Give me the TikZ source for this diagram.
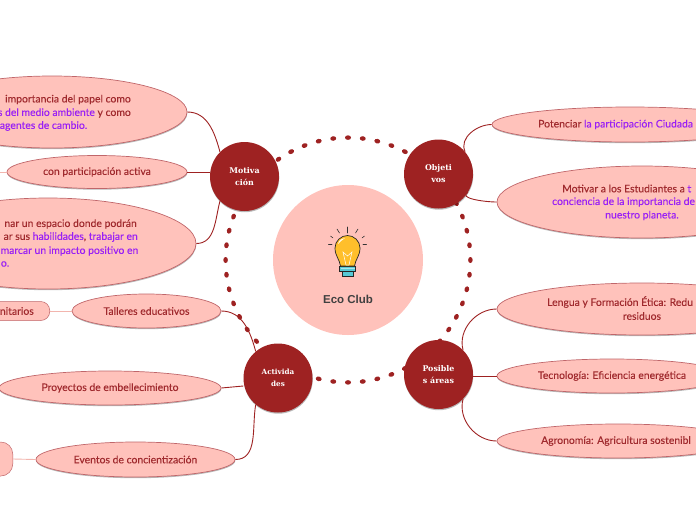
\documentclass[tikz,border=0pt]{standalone}
\usepackage{fontspec}
\setmainfont{Lato}[FakeBold=0.12]
\newfontfamily\serifhead{DejaVu Serif}
\newfontfamily\titlefont{Liberation Sans}
\usetikzlibrary{shapes.geometric,shadows}
\definecolor{petal}{HTML}{FFC2BB}
\definecolor{petaledge}{HTML}{C0666A}
\definecolor{wine}{HTML}{9E2222}
\definecolor{winetext}{HTML}{A02A2E}
\definecolor{violet}{HTML}{9A20F5}
\definecolor{tail}{HTML}{F2B5AE}
\definecolor{bulb}{HTML}{FFBF2B}
\definecolor{socket}{HTML}{57C9D6}
\tikzset{
  leaf/.style={ellipse, draw=petaledge, fill=petal, line width=0.7pt, inner sep=0pt,
    text=winetext, font=\fontsize{10.4}{12}\selectfont,
    drop shadow={shadow xshift=0.3pt, shadow yshift=-1.2pt, fill=black, opacity=0.28}},
  stub/.style={draw=petaledge, fill=petal, line width=0.5pt, rounded corners=9pt,
    text=winetext, font=\fontsize{10.4}{12}\selectfont, inner sep=0pt},
  hub/.style={circle, fill=wine, inner sep=0pt, minimum size=69pt, text=white, align=center,
    font=\serifhead\bfseries\fontsize{7.9}{12}\selectfont,
    drop shadow={shadow xshift=0.3pt, shadow yshift=-1.2pt, fill=black, opacity=0.28}},
  line/.style={text=winetext, font=\fontsize{10.4}{12}\selectfont, inner sep=0pt},
  link/.style={draw=wine, line width=0.9pt},
  faint/.style={draw=tail, line width=0.9pt},
  ray/.style={draw=black!80, line width=0.6pt, line cap=round},
}
\newcommand{\hl}[1]{\textcolor{violet}{#1}}
\begin{document}
\begin{tikzpicture}[x=1pt,y=-1pt]
  \useasboundingbox (0,0) rectangle (696,520);
  \coordinate (ringc) at (348,260);
  \foreach \a [evaluate=\a as \ang using 180+\a*6.9231] in {0,...,51}
    \fill[wine] (ringc) ++(\ang:122.4pt) circle[x radius=3pt, y radius=2.3pt, rotate=\ang+90];
  \node[circle, fill=petal, minimum size=150pt, inner sep=0pt] (core) at (ringc) {};
  \node[hub] (mot) at (244.5,176.5) {Motiva\\ción};
  \node[hub] (obj) at (438.5,174) {Objeti\\vos};
  \node[hub, font=\serifhead\bfseries\fontsize{7.2}{12}\selectfont] (act) at (278,378) {Activida\\des};
  \node[hub] (pos) at (438.5,374.5) {Posible\\s áreas};

  \node[leaf, minimum width=270pt, minimum height=72pt] (papel) at (52,112) {};
  \node[leaf, minimum width=180pt, minimum height=33pt] (activa) at (97,172) {con participación activa};
  \node[leaf, minimum width=296pt, minimum height=91pt] (espacio) at (48,243.5) {};
  \node[line, anchor=east] (p1) at (131,99.5) {importancia del papel como};
  \node[line, anchor=east] (p2) at (131,113) {\hl{s del medio ambiente} y como};
  \node[line, anchor=east] (p3) at (87.5,126) {\hl{agentes de cambio.}};
  \node[line, anchor=east] (e1) at (137,224) {nar un espacio donde podrán};
  \node[line, anchor=east] (e2) at (138,237) {ar sus \hl{habilidades}, \hl{trabajar en}};
  \node[line, anchor=east] (e3) at (138.5,251) {\hl{marcar un impacto positivo en}};
  \node[line, anchor=east] (e4) at (9.5,264) {\hl{o.}};

  \node[leaf, minimum width=149pt, minimum height=34pt] (talleres) at (146.5,311) {Talleres educativos};
  \node[leaf, minimum width=222pt, minimum height=34pt] (proyectos) at (110,388) {Proyectos de embellecimiento};
  \node[leaf, minimum width=199pt, minimum height=35pt] (eventos) at (135.5,459.5) {Eventos de concientización};
  \node[stub, minimum width=80pt, minimum height=19pt, anchor=east] (comun) at (50,311) {};
  \node[line, anchor=east] (comunt) at (34,311) {nitarios};
  \node[stub, minimum width=60pt, minimum height=34pt, anchor=east, rounded corners=12pt] (evstub) at (13,459) {};

  \node[leaf, minimum width=276pt, minimum height=35pt] (ciudad) at (630,124.5) {};
  \node[leaf, minimum width=290pt, minimum height=72pt] (conciencia) at (642,202) {};
  \node[leaf, minimum width=290pt, minimum height=52pt] (lengua) at (642,309) {};
  \node[leaf, minimum width=230pt, minimum height=34pt] (tecno) at (612,376) {Tecnología: Eficiencia energética};
  \node[leaf, minimum width=242pt, minimum height=34pt] (agro) at (618,441) {};
  \node[line, anchor=west] (c1) at (538,124.5) {Potenciar \hl{la participación Ciudada}};
  \node[line, anchor=west] (m1) at (562,188.5) {Motivar a los Estudiantes a \hl{t}};
  \node[line, anchor=west] (m2) at (552,202) {\hl{conciencia de la importancia de}};
  \node[line] (m3) at (642,215.5) {\hl{nuestro planeta.}};
  \node[line, anchor=west] (l1) at (547,302) {Lengua y Formación Ética: Redu};
  \node[line] (l2) at (642,316) {residuos};
  \node[line, anchor=west] (a1) at (541,441) {Agronomía: Agricultura sostenibl};

  \draw[link] (papel.east) to[out=0,in=105] (mot.135);
  \draw[link] (activa.east) -- (mot.west |- activa.east);
  \draw[link] (espacio.east) to[out=0,in=-105] (mot.-135);
  \draw[link] (obj.40) to[out=115,in=180] (ciudad.west);
  \draw[link] (obj.-32) to[out=-150,in=180] (conciencia.west);
  \draw[link] (pos.45) to[out=105,in=180] (lengua.west);
  \draw[link] (pos.east |- tecno.west) -- (tecno.west);
  \draw[link] (pos.-45) to[out=-105,in=180] (agro.west);
  \draw[link] (talleres.east) to[out=0,in=105] (act.130);
  \draw[link] (proyectos.east) -- (act.west |- 0,386);
  \draw[link] (eventos.east) to[out=0,in=-100] (act.-130);
  \draw[faint] (comun.east) -- (talleres.west);
  \draw[faint] (evstub.east) -- (eventos.west);
  \draw[faint] (activa.west) -- ++(-7,0);

  \node[text=black!75, font=\titlefont\bfseries\fontsize{11.5}{12}\selectfont] (eco) at (348,299) {Eco Club};
  \filldraw[fill=socket, draw=black!85, line width=0.6pt] (339.5,266) rectangle (355.5,271);
  \filldraw[fill=socket, draw=black!85, line width=0.6pt] (342,271) rectangle (353.5,276);
  \draw[socket!50!white, line width=0.6pt] (340.5,268) -- (354.5,268);
  \filldraw[fill=bulb, draw=black!85, line width=0.7pt] (340.5,266) .. controls (339.5,259) and (335,256) .. (335,248) .. controls (335,241) and (341,235.5) .. (347.5,235.5) .. controls (354,235.5) and (360,241) .. (360,248) .. controls (360,256) and (355.5,259) .. (354.5,266) -- cycle;
  \draw[white, line width=0.5pt] (343,252) -- (346,265) -- (349,265) -- (352,252) -- (347.5,256) -- cycle;
  \fill[white!90!bulb] (338,244) .. controls (339,240) and (342,238) .. (345,238) .. controls (342,240) and (340,242) .. (338,244);
  \foreach \xa/\ya/\xb/\yb in {347.5/227/347.5/233, 337/229/339.5/233, 330.5/236/333/238, 328.5/244.3/332/244.3, 358/229/355.5/233, 364.5/236/362/238, 366.5/244.3/363/244.3}
    \draw[ray] (\xa,\ya) -- (\xb,\yb);
\end{tikzpicture}
\end{document}
